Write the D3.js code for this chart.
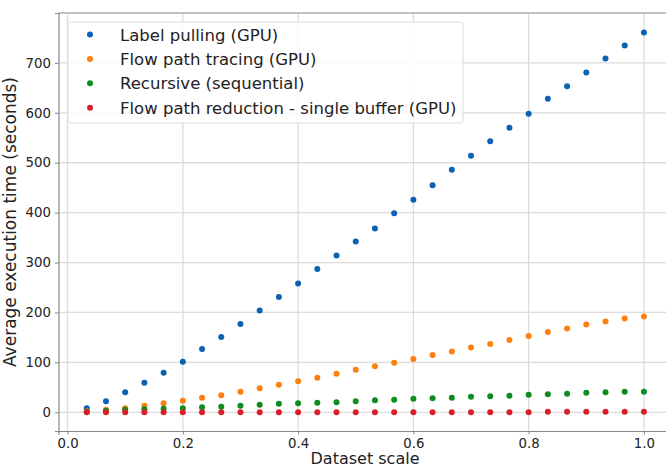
<!DOCTYPE html>
<html>
<head>
<meta charset="utf-8">
<script src="https://d3js.org/d3.v7.min.js"></script>
<style>
  body { margin: 0; background: #fff; }
  text { font-family: "DejaVu Sans", sans-serif; fill: #222; }
</style>
</head>
<body>
<div id="chart-container"></div>
<script>
// dataset scale: 1/30 ... 30/30
const scales = d3.range(1, 31).map(i => i / 30);

const labelPulling = [8, 22, 40, 59, 79, 101, 127, 151, 177, 204, 231, 258, 287, 314, 342,
  368, 399, 426, 455, 486, 514, 543, 570, 598, 628, 653, 681, 709, 735, 761];
const flowPathTracing = [2, 5, 8, 13, 18, 23, 29, 34, 41, 48, 55, 62, 69, 77, 85,
  92, 99, 107, 115, 122, 130, 137, 145, 153, 161, 168, 176, 182, 188, 192];
const recursive = [1, 3, 5, 6, 7, 8, 10, 11, 13, 15, 17, 18, 19, 20, 22,
  24, 25, 27, 28, 29, 31, 32, 33, 35, 36, 37, 39, 40, 41, 41];
const flowPathReduction = [0, 0, 0, 0, 0, 0, 0, 0, 0, 0, 0, 0, 0, 0, 0,
  0, 0, 0, 0, 0, 0, 0, 0, 0, 1, 1, 1, 1, 1, 1];

const seriesNames = ['Label pulling (GPU)', 'Flow path tracing (GPU)',
  'Recursive (sequential)', 'Flow path reduction - single buffer (GPU)'];
const seriesValues = [labelPulling, flowPathTracing, recursive, flowPathReduction];
const colors = ['#0b62b3', '#ff7f0e', '#0d8c1f', '#d9202a'];

const xTicks = [0.0, 0.2, 0.4, 0.6, 0.8, 1.0];
const yTicks = [0, 100, 200, 300, 400, 500, 600, 700];

const svgWidth = 666, svgHeight = 468;
const margin = {top: 13, left: 58.5, bottom: 37, right: 0};

const svg = d3.select('#chart-container').append('svg')
  .attr('width', svgWidth)
  .attr('height', svgHeight);

// x axis runs past the right edge (figure is cropped)
const x = d3.scaleLinear().domain([-0.0157, 1.0487]).range([margin.left, 672]);
const y = d3.scaleLinear().domain([-37.5, 800]).range([svgHeight - margin.bottom, margin.top]);

const plotBottom = svgHeight - margin.bottom;

// grid
const grid = svg.append('g').attr('stroke', '#dcdcdc').attr('stroke-width', 1.3);
grid.selectAll('.gx').data(xTicks).enter().append('line')
  .attr('x1', d => x(d)).attr('x2', d => x(d))
  .attr('y1', margin.top).attr('y2', plotBottom);
grid.selectAll('.gy').data(yTicks).enter().append('line')
  .attr('x1', margin.left).attr('x2', svgWidth)
  .attr('y1', d => y(d)).attr('y2', d => y(d));

// axes
const xAxis = svg.append('g')
  .attr('transform', 'translate(0,' + plotBottom + ')')
  .call(d3.axisBottom(x).tickValues(xTicks).tickFormat(d3.format('.1f')).tickSizeOuter(0).tickSize(3.5).tickPadding(4));
const yAxis = svg.append('g')
  .attr('transform', 'translate(' + margin.left + ',0)')
  .call(d3.axisLeft(y).tickValues(yTicks).tickSizeOuter(0).tickSize(3.5).tickPadding(4));

[xAxis, yAxis].forEach(a => {
  a.select('.domain').attr('stroke', '#888').attr('stroke-width', 1.2);
  a.selectAll('.tick line').attr('stroke', '#888');
  a.selectAll('.tick text').attr('font-size', 13.3).style('fill', '#222');
});

// top spine
svg.append('line')
  .attr('x1', margin.left).attr('x2', svgWidth)
  .attr('y1', margin.top).attr('y2', margin.top)
  .attr('stroke', '#888').attr('stroke-width', 1.2);

// points
seriesValues.forEach((vals, k) => {
  svg.append('g').selectAll('circle')
    .data(vals).enter().append('circle')
    .attr('cx', (d, i) => x(scales[i]))
    .attr('cy', d => y(d))
    .attr('r', 3)
    .attr('fill', colors[k]);
});

// axis labels
svg.append('text')
  .attr('x', 365).attr('y', 464)
  .attr('text-anchor', 'middle')
  .attr('font-size', 16)
  .text('Dataset scale');
svg.append('text')
  .attr('transform', 'translate(16,' + 222 + ') rotate(-90)')
  .attr('text-anchor', 'middle')
  .attr('font-size', 17)
  .text('Average execution time (seconds)');

// legend
const legend = svg.append('g');
legend.append('rect')
  .attr('x', 68).attr('y', 22).attr('width', 395).attr('height', 101)
  .attr('rx', 3)
  .attr('fill', 'rgba(255,255,255,0.85)')
  .attr('stroke', '#dddddd');
const items = legend.selectAll('.item').data(seriesNames).enter().append('g')
  .attr('transform', (d, i) => 'translate(0,' + (34.5 + i * 24.4) + ')');
items.append('circle').attr('cx', 90).attr('cy', 0).attr('r', 3)
  .attr('fill', (d, i) => colors[i]);
items.append('text').attr('x', 120).attr('y', 6)
  .attr('font-size', 16.5)
  .text(d => d);
</script>
</body>
</html>
